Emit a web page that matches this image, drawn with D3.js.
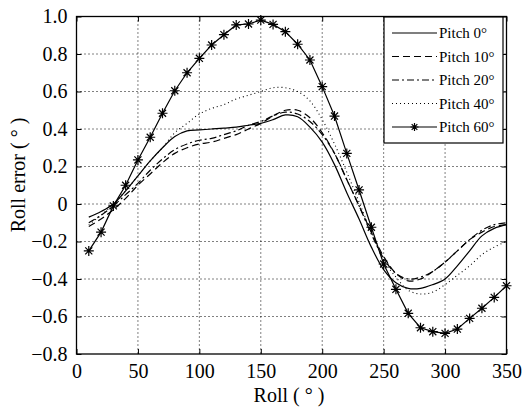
<!DOCTYPE html>
<html>
<head>
<meta charset="utf-8">
<script src="https://cdn.jsdelivr.net/npm/d3@7"></script>
<style>
  body { margin: 0; background: #fff; }
  svg text { font-family: "Liberation Serif", "Tinos", "DejaVu Serif", "Noto Serif", serif; }
</style>
</head>
<body>
<div id="chart"></div>
<script>
// roll angles (deg)
const roll = [10, 20, 30, 40, 50, 60, 70, 80, 90, 100, 110, 120, 130, 140, 150, 160, 170, 180,
  190, 200, 210, 220, 230, 240, 250, 260, 270, 280, 290, 300, 310, 320, 330, 340, 350];

const pitch0 = [-0.07, -0.04, 0.0, 0.07, 0.15, 0.23, 0.30, 0.36, 0.39, 0.395, 0.40, 0.405, 0.41, 0.42, 0.43, 0.45, 0.475, 0.465,
  0.41, 0.33, 0.21, 0.06, -0.08, -0.23, -0.35, -0.42, -0.45, -0.45, -0.43, -0.40, -0.33, -0.25, -0.17, -0.13, -0.11];
const pitch10 = [-0.12, -0.08, -0.03, 0.03, 0.10, 0.16, 0.22, 0.27, 0.30, 0.32, 0.33, 0.35, 0.37, 0.40, 0.43, 0.47, 0.50, 0.50,
  0.46, 0.38, 0.27, 0.13, -0.01, -0.15, -0.28, -0.37, -0.41, -0.40, -0.36, -0.31, -0.25, -0.19, -0.15, -0.12, -0.11];
const pitch20 = [-0.10, -0.06, -0.01, 0.05, 0.11, 0.18, 0.24, 0.29, 0.32, 0.34, 0.35, 0.37, 0.39, 0.42, 0.44, 0.47, 0.49, 0.48,
  0.44, 0.37, 0.27, 0.13, -0.01, -0.16, -0.29, -0.37, -0.40, -0.39, -0.36, -0.31, -0.25, -0.19, -0.14, -0.11, -0.10];
const pitch40 = [-0.11, -0.06, 0.0, 0.07, 0.15, 0.23, 0.30, 0.38, 0.43, 0.48, 0.51, 0.53, 0.56, 0.58, 0.60, 0.62, 0.62, 0.60,
  0.55, 0.45, 0.32, 0.17, 0.01, -0.15, -0.30, -0.39, -0.46, -0.48, -0.47, -0.43, -0.38, -0.33, -0.27, -0.23, -0.20];
const pitch60 = [-0.25, -0.15, -0.01, 0.10, 0.235, 0.356, 0.484, 0.604, 0.70, 0.777, 0.848, 0.903, 0.955, 0.96, 0.981, 0.958, 0.919, 0.852,
  0.768, 0.626, 0.469, 0.27, 0.075, -0.124, -0.32, -0.455, -0.583, -0.66, -0.681, -0.69, -0.667, -0.61, -0.556, -0.498, -0.436];

const seriesNames = ['Pitch 0°', 'Pitch 10°', 'Pitch 20°', 'Pitch 40°', 'Pitch 60°'];
const xTicks = [0, 50, 100, 150, 200, 250, 300, 350];
const yTicks = [-0.8, -0.6, -0.4, -0.2, 0, 0.2, 0.4, 0.6, 0.8, 1.0];

const series = [
  { name: seriesNames[0], values: pitch0, dash: null, marker: false },
  { name: seriesNames[1], values: pitch10, dash: '7,4', marker: false },
  { name: seriesNames[2], values: pitch20, dash: '7,3,2,3', marker: false },
  { name: seriesNames[3], values: pitch40, dash: '1,3', marker: false },
  { name: seriesNames[4], values: pitch60, dash: null, marker: true }
];

const W = 522, H = 407;
const margin = { top: 16.5, right: 15.5, bottom: 53, left: 76.5 };
const width = W - margin.left - margin.right;
const height = H - margin.top - margin.bottom;

const svg = d3.select('#chart').append('svg')
  .attr('width', W)
  .attr('height', H);

const chart = svg.append('g')
  .attr('transform', `translate(${margin.left},${margin.top})`);

const x = d3.scaleLinear().domain([0, 350]).range([0, width]);
const y = d3.scaleLinear().domain([-0.8, 1.0]).range([height, 0]);

// dotted grid
chart.append('g').selectAll('line')
  .data(xTicks.slice(1, -1))
  .join('line')
  .attr('x1', d => x(d)).attr('x2', d => x(d))
  .attr('y1', 0).attr('y2', height)
  .attr('stroke', '#000').attr('stroke-width', 1)
  .attr('stroke-dasharray', '1,3');

chart.append('g').selectAll('line')
  .data(yTicks.slice(1, -1))
  .join('line')
  .attr('x1', 0).attr('x2', width)
  .attr('y1', d => y(d)).attr('y2', d => y(d))
  .attr('stroke', '#000').attr('stroke-width', 1)
  .attr('stroke-dasharray', '1,3');

// axes, ticks inward on all sides
const tickFmt = d => d === 0 ? '0' : d3.format('.1f')(d);
const styleAxis = g => {
  g.attr('font-family', null);
  g.select('.domain').remove();
  g.selectAll('text').attr('font-size', 20).attr('fill', '#000');
  g.selectAll('line').attr('stroke', '#000');
};

chart.append('g')
  .attr('transform', `translate(0,${height})`)
  .call(d3.axisBottom(x).tickValues(xTicks).tickSize(-5).tickPadding(10).tickFormat(d3.format('d')))
  .call(styleAxis);

chart.append('g')
  .call(d3.axisLeft(y).tickValues(yTicks).tickSize(-5).tickPadding(9).tickFormat(tickFmt))
  .call(styleAxis);

chart.append('g')
  .call(d3.axisTop(x).tickValues(xTicks).tickSize(-5).tickFormat(''))
  .call(styleAxis);

chart.append('g')
  .attr('transform', `translate(${width},0)`)
  .call(d3.axisRight(y).tickValues(yTicks).tickSize(-5).tickFormat(''))
  .call(styleAxis);

chart.append('rect')
  .attr('width', width).attr('height', height)
  .attr('fill', 'none').attr('stroke', '#000').attr('stroke-width', 1.3);

// lines
const line = d3.line()
  .x((d, i) => x(roll[i]))
  .y(d => y(d));

series.forEach(s => {
  line.curve(s.marker ? d3.curveLinear : d3.curveCatmullRom);
  chart.append('path')
    .datum(s.values)
    .attr('fill', 'none')
    .attr('stroke', '#000')
    .attr('stroke-width', s.dash === '1,3' ? 1.1 : 1.2)
    .attr('stroke-dasharray', s.dash)
    .attr('d', line);
});

// asterisk markers
const star = r => {
  const a = r * Math.SQRT1_2;
  return `M${-r},0L${r},0M0,${-r}L0,${r}M${-a},${-a}L${a},${a}M${-a},${a}L${a},${-a}`;
};

chart.append('g').selectAll('path')
  .data(pitch60)
  .join('path')
  .attr('transform', (d, i) => `translate(${x(roll[i])},${y(d)})`)
  .attr('d', star(5))
  .attr('stroke', '#000')
  .attr('stroke-width', 1.2)
  .attr('fill', 'none');

// legend
const legend = svg.append('g').attr('transform', 'translate(384,17)');
legend.append('rect')
  .attr('width', 119).attr('height', 126)
  .attr('fill', '#fff').attr('stroke', '#000').attr('stroke-width', 1.2);

const legY = d3.scalePoint().domain(seriesNames).range([16, 110]);

series.forEach(s => {
  const g = legend.append('g').attr('transform', `translate(0,${legY(s.name)})`);
  g.append('line')
    .attr('x1', 8).attr('x2', 53)
    .attr('stroke', '#000').attr('stroke-width', 1.2)
    .attr('stroke-dasharray', s.dash);
  if (s.marker) {
    g.append('path')
      .attr('transform', 'translate(30.5,0)')
      .attr('d', star(4))
      .attr('stroke', '#000').attr('stroke-width', 1.2);
  }
  g.append('text')
    .attr('x', 55)
    .attr('dy', '0.35em')
    .attr('font-size', 15)
    .attr('fill', '#000')
    .text(s.name);
});

// axis titles
svg.append('text')
  .attr('x', 289)
  .attr('y', 402)
  .attr('text-anchor', 'middle')
  .attr('font-size', 20)
  .text('Roll ( ° )');

svg.append('text')
  .attr('transform', 'translate(25,175) rotate(-90)')
  .attr('text-anchor', 'middle')
  .attr('font-size', 20)
  .text('Roll error ( ° )');
</script>
</body>
</html>
